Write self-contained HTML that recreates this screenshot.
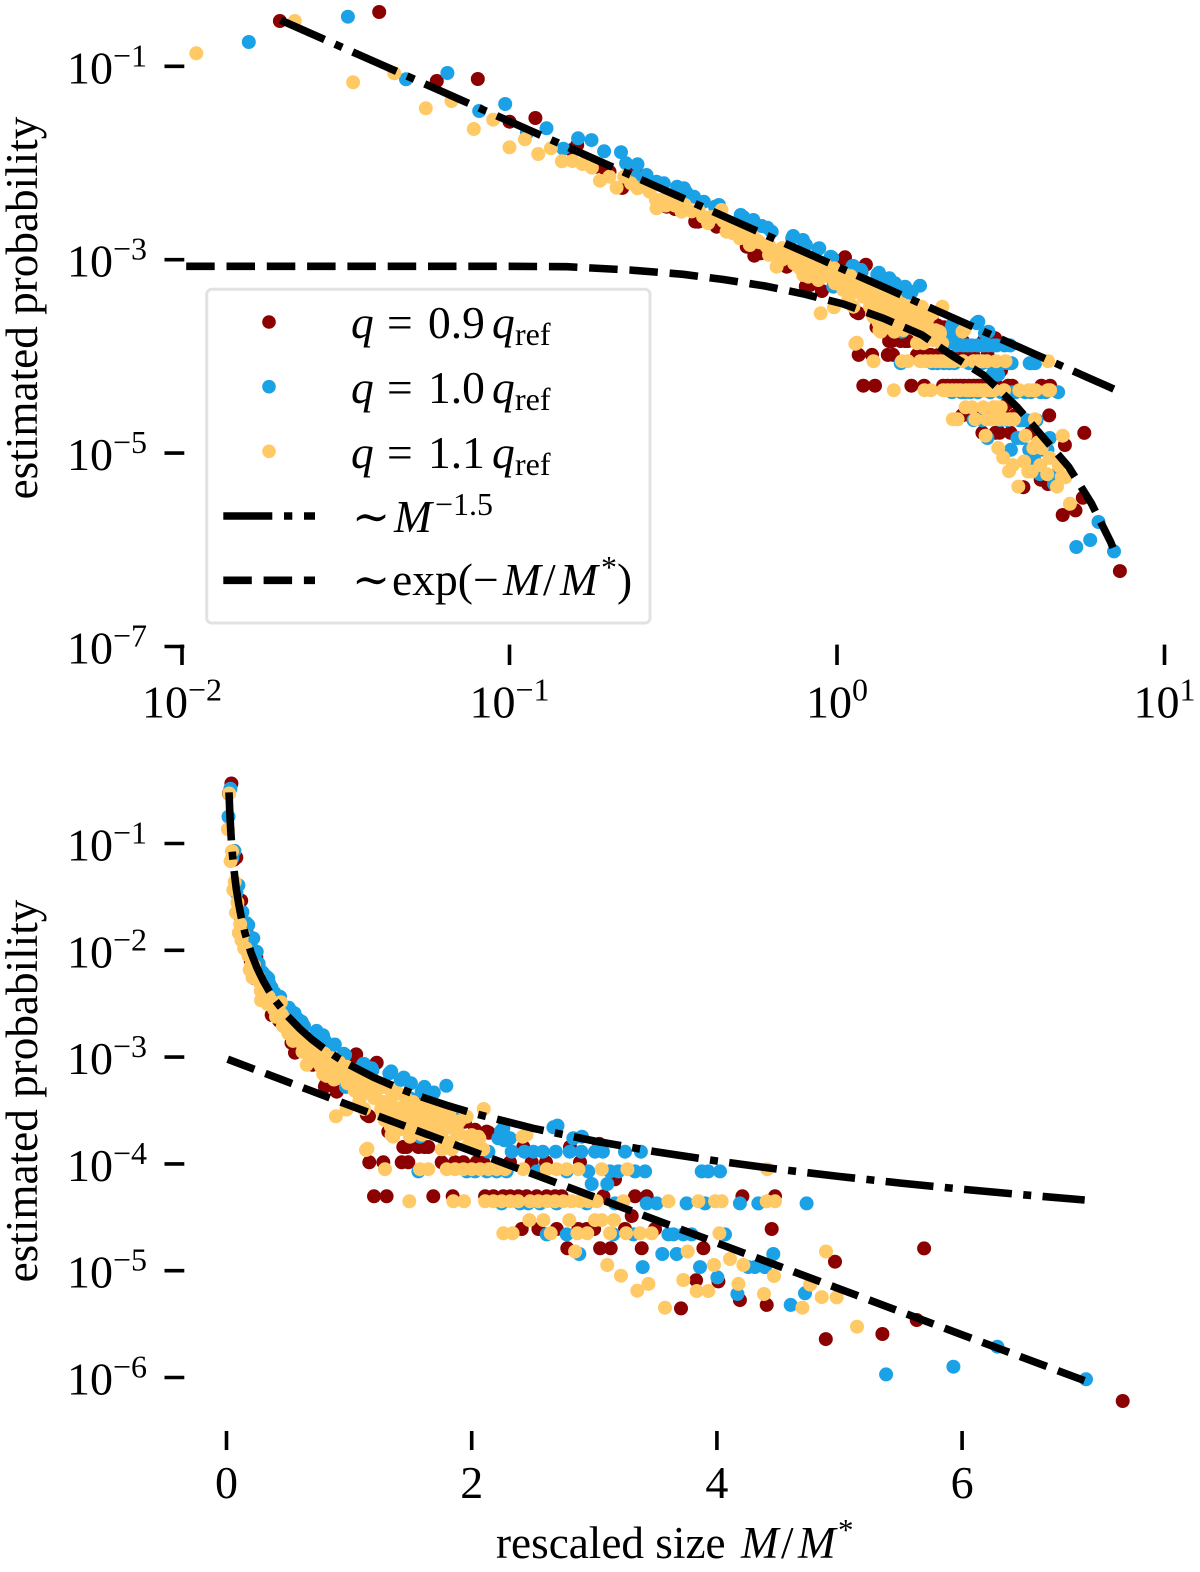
<!DOCTYPE html>
<html lang="en">
<head>
<meta charset="utf-8">
<title>Estimated probability versus rescaled size</title>
<style>
html,body{margin:0;padding:0;background:#fff;}
svg{display:block;}
text{font-family:"Liberation Serif","DejaVu Serif",serif;fill:#000;}
.i{font-style:italic;}
</style>
</head>
<body>
<svg id="chart" xmlns="http://www.w3.org/2000/svg" width="1200" height="1572" viewBox="0 0 1200 1572">
  <rect width="1200" height="1572" fill="#fff"/>
  <g id="top-panel"></g>
  <g id="bottom-panel"></g>

  <text transform="translate(37,308) rotate(-90)" text-anchor="middle" font-size="45.2">estimated probability</text>
  <text transform="translate(37,1091) rotate(-90)" text-anchor="middle" font-size="45.2">estimated probability</text>
  <text y="1558" font-size="45.2"><tspan x="496">rescaled size</tspan><tspan x="741" class="i">M</tspan><tspan x="781">/</tspan><tspan x="798" class="i">M</tspan><tspan x="838" dy="-18" font-size="31">*</tspan></text>

  <g>
    <rect x="206.7" y="289.3" width="443.3" height="333.7" rx="5" fill="rgba(255,255,255,0.8)" stroke="#e2e2e2" stroke-width="3"/>
    <g>
      <circle cx="269" cy="322" r="6.8" fill="#8b0000"/>
      <text y="338" font-size="45.5"><tspan x="351" class="i">q</tspan><tspan x="387">=</tspan><tspan x="428">0.9</tspan><tspan x="492" class="i">q</tspan><tspan x="515" dy="7" font-size="32">ref</tspan></text>
    </g>
    <g>
      <circle cx="269" cy="386.7" r="6.8" fill="#1ba1e6"/>
      <text y="403" font-size="45.5"><tspan x="351" class="i">q</tspan><tspan x="387">=</tspan><tspan x="428">1.0</tspan><tspan x="492" class="i">q</tspan><tspan x="515" dy="7" font-size="32">ref</tspan></text>
    </g>
    <g>
      <circle cx="269" cy="451.3" r="6.8" fill="#ffc966"/>
      <text y="468" font-size="45.5"><tspan x="351" class="i">q</tspan><tspan x="387">=</tspan><tspan x="428">1.1</tspan><tspan x="492" class="i">q</tspan><tspan x="515" dy="7" font-size="32">ref</tspan></text>
    </g>
    <g>
      <line x1="223.3" y1="516" x2="315" y2="516" stroke="#000" stroke-width="7.6" stroke-dasharray="49 11.7 8.3 11.7"/>
      <text y="532" font-size="45.5"><tspan x="352">∼</tspan><tspan x="394" class="i">M</tspan><tspan x="435" dy="-17" font-size="32">−1.5</tspan></text>
    </g>
    <g>
      <line x1="223.3" y1="580.3" x2="315" y2="580.3" stroke="#000" stroke-width="7.6" stroke-dasharray="28.5 11.8"/>
      <text y="595" font-size="45.5"><tspan x="352">∼</tspan><tspan x="392">exp(</tspan><tspan x="473">−</tspan><tspan x="503" class="i">M</tspan><tspan x="543">/</tspan><tspan x="560" class="i">M</tspan><tspan x="601" dy="-17" font-size="32">*</tspan><tspan x="617" dy="17">)</tspan></text>
    </g>
  </g>
</svg>

<script>
// ---------- tick labels ----------
const topXTicks = [-2, -1, 0, 1];
const topYTicks = [-1, -3, -5, -7];
const bottomXTicks = [0, 2, 4, 6];
const bottomYTicks = [-1, -2, -3, -4, -5, -6];

// ---------- fit lines: M and log10(P) ----------
const powerM = [0.02,0.025,0.03,0.035,0.04,0.05,0.06,0.07,0.08,0.1,0.12,0.15,0.2,0.25,0.3,0.35,0.4,0.5,0.6,0.7,0.8,0.9,1,1.2,1.4,1.6,1.8,2,2.5,3,3.5,4,4.5,5,5.5,6,6.5,7];
const powerLogP = [-0.522,-0.667,-0.786,-0.886,-0.973,-1.118,-1.237,-1.338,-1.425,-1.57,-1.689,-1.834,-2.022,-2.167,-2.286,-2.386,-2.473,-2.618,-2.737,-2.838,-2.925,-3.001,-3.07,-3.189,-3.289,-3.376,-3.453,-3.522,-3.667,-3.786,-3.886,-3.973,-4.05,-4.118,-4.18,-4.237,-4.289,-4.338];
const expTopM = [0.0103,0.05,0.1,0.15,0.233,0.339,0.45,0.603,0.8,1.045,1.385,1.815,2.267,2.8,3.54,4.12,5.09,5.98,6.85,7];
const expTopLogP = [-3.068,-3.068,-3.068,-3.072,-3.106,-3.151,-3.205,-3.272,-3.358,-3.458,-3.606,-3.778,-4.0,-4.192,-4.52,-4.78,-5.14,-5.52,-5.92,-6.0];
const expBottomM = [0.01,1,2,3,4,5,6,7];
const expBottomLogP = [-3.02,-3.45,-3.88,-4.31,-4.74,-5.17,-5.6,-6.03];

// ---------- q = 0.9 q_ref ----------
const redM = [0.0199,0.04,0.06,0.08,0.1,0.12,0.155,0.161,0.184,0.202,
  0.221,0.2415,0.198,0.243,0.302,0.32,0.377,0.429,0.53,0.585,
  0.702,0.808,0.369,0.559,1.048,1.058,1.225,0.803,0.899,0.827,
  1.162,1.353,1.578,1.32,1.144,2.122,2.027,1.945,3.169,2.14,
  3.04,3.305,3.707,3.83,4.012,4.188,4.406,4.963,4.888,5.35,
  5.63,5.69,7.31];
const redLogP = [-0.532,-0.438,-1.152,-1.131,-1.573,-1.535,-1.866,-1.814,-2.038,-2.09,
  -2.258,-2.08,-2.103,-2.065,-2.452,-2.476,-2.607,-2.659,-2.866,-2.934,
  -3.072,-3.262,-2.606,-2.959,-2.996,-2.975,-3.052,-3.277,-3.324,-3.262,
  -3.554,-3.709,-3.449,-3.698,-3.54,-3.698,-3.68,-3.605,-4.144,-3.709,
  -3.813,-4.488,-5.353,-5.09,-5.1,-5.275,-5.32,-4.916,-5.64,-5.593,
  -5.462,-4.791,-6.22];
const redRowLevels = [-3.842,-3.985,-4.303,-4.61,-4.79];
const redRowM = [
  [1.442,1.47,1.565,1.614,1.646,2.421,2.802],
  [1.165,1.279,1.429,1.483,1.755,1.864,1.932,2.04,2.095,2.312,2.489,2.606,2.883],
  [1.203,1.306,1.687,1.845,2.109,2.177,2.258,2.313,2.38,2.448,2.53,2.612,2.68,2.734,3.074,3.332,3.427,4.208,4.474],
  [2.408,2.544,2.693,2.87,2.938,2.998,3.25,3.495,4.447],
  [2.78,3.047,3.134,3.387,3.89]
];

// ---------- q = 1.0 q_ref ----------
const blueM = [0.016,0.0321,0.0483,0.0646,0.0808,0.097,0.113,0.1297,0.146,0.162,
  0.1945,0.227,0.2435,0.2596,0.262,0.281,0.296,0.325,0.347,0.366,
  0.392,0.424,0.46,0.508,0.555,0.589,0.632,0.735,0.787,0.178,
  0.219,0.246,0.341,0.436,0.518,0.613,0.73,0.803,0.877,0.967,
  1.116,1.184,1.328,1.42,1.592,1.65,0.883,0.957,1.122,1.19,
  1.343,1.445,1.614,1.793,1.691,1.504,0.974,1.081,2.24,2.267,
  2.258,2.666,2.217,2.312,2.829,2.7,2.9,1.864,1.7,1.578,
  1.497,1.633,2.979,3.106,4.004,4.167,4.602,4.719,5.38,5.929,
  6.288,7.011];
const blueLogP = [-0.749,-0.487,-1.134,-1.069,-1.462,-1.39,-1.69,-1.641,-1.852,-1.745,
  -1.879,-2.003,-2.142,-2.142,-2.124,-2.193,-2.21,-2.245,-2.307,-2.348,
  -2.4,-2.452,-2.607,-2.538,-2.589,-2.651,-2.71,-2.755,-2.796,-1.763,
  -1.888,-2.013,-2.262,-2.434,-2.559,-2.669,-2.777,-2.846,-2.887,-2.98,
  -3.065,-3.105,-3.152,-3.214,-3.324,-3.355,-2.882,-2.969,-3.065,-3.124,
  -3.134,-3.192,-3.279,-3.269,-3.331,-3.244,-3.279,-3.344,-3.693,-3.779,
  -3.667,-3.657,-3.76,-3.76,-3.76,-3.641,-3.745,-3.582,-3.526,-3.745,
  -3.386,-3.339,-4.188,-4.188,-5.063,-5.218,-5.32,-5.212,-5.971,-5.899,
  -5.712,-6.017];
const blueRowLevels = [-3.886,-4.07,-4.37,-4.66,-4.844,-4.966];
const blueRowM = [
  [2.136,2.326,2.43,2.503,2.58,2.685,2.8,2.894,3.006,3.07,3.25,3.38],
  [1.565,1.959,2.027,2.122,2.204,2.285,2.53,2.775,2.951,3.128,3.196,3.332,3.414,3.876,3.93,4.025],
  [2.244,2.394,2.462,2.557,2.693,2.938,3.169,3.427,3.509,3.753,3.903,4.188,4.338,4.732],
  [2.612,2.775,3.155,3.319,3.604,3.645,3.726,3.794,4.066],
  [2.878,3.555,3.672,4.46],
  [3.395,3.862,4.256,4.31,4.392]
];

// ---------- q = 1.1 q_ref ----------
const yellowM = [0.01106,0.0221,0.0333,0.0445,0.0555,0.0665,0.0778,0.0892,0.1,0.1114,
  0.1224,0.1338,0.1445,0.1557,0.167,0.1785,0.189,0.2018,0.2123,0.224,
  0.235,0.246,0.258,0.268,0.281,0.291,0.309,0.335,0.343,0.377,
  0.39,0.404,0.424,0.444,0.46,0.482,0.505,0.542,0.568,0.61,
  0.646,0.654,0.685,0.718,0.753,0.789,0.685,0.727,0.771,0.817,
  0.877,0.771,0.846,0.93,0.986,1.045,1.109,1.203,1.261,1.353,
  1.452,1.353,1.522,1.634,1.594,1.752,1.835,1.969,2.063,1.879,
  1.418,1.291,1.122,1.083,1.218,1.353,1.504,1.614,1.71,1.815,
  2.098,2.447,0.892,0.979,1.149,2.416,1.138,1.347,1.497,1.51,
  1.36,1.755,1.837,2.095,2.068,1.768,1.986,1.878,2.0,2.054,
  1.959,1.796,1.646,1.537,1.7,2.843,3.762,3.106,3.218,3.351,
  3.441,3.577,3.726,3.835,3.93,3.976,4.107,4.216,4.175,4.384,
  4.466,4.697,4.855,4.76,4.89,4.977,5.143];
const yellowLogP = [-0.866,-0.532,-1.165,-1.072,-1.434,-1.359,-1.648,-1.552,-1.838,-1.755,
  -1.907,-1.848,-1.982,-1.979,-2.01,-2.049,-2.183,-2.142,-2.255,-2.142,
  -2.21,-2.262,-2.245,-2.297,-2.468,-2.383,-2.4,-2.504,-2.434,-2.486,
  -2.555,-2.623,-2.555,-2.486,-2.71,-2.727,-2.779,-2.848,-2.796,-2.865,
  -2.951,-3.072,-2.969,-2.917,-3.055,-3.158,-2.9,-2.985,-3.089,-3.176,
  -3.21,-2.951,-3.037,-3.124,-3.244,-3.313,-3.347,-3.383,-3.486,-3.52,
  -3.554,-3.727,-3.606,-3.658,-3.727,-3.727,-3.796,-3.83,-3.761,-3.693,
  -3.675,-3.59,-3.486,-3.417,-3.279,-3.365,-3.451,-3.52,-3.59,-3.486,
  -3.486,-3.727,-3.554,-3.492,-3.858,-3.745,-3.87,-3.73,-3.745,-3.667,
  -3.745,-3.863,-3.863,-3.863,-3.854,-3.854,-3.74,-3.651,-3.73,-3.745,
  -3.558,-3.636,-3.589,-3.495,-3.636,-4.82,-4.82,-4.947,-5.047,-5.187,
  -5.124,-5.346,-5.087,-5.19,-5.19,-4.947,-4.89,-4.947,-5.124,-5.218,
  -5.05,-5.346,-5.247,-5.13,-4.82,-5.25,-5.524];
const yellowRowLevels = [-4.05,-4.35,-4.526,-4.65];
const yellowRowM = [
  [1.293,1.578,1.646,1.796,1.864,1.932,2.0,2.068,2.136,2.204,2.272,2.421,2.612,2.693,2.775,2.87,3.06,3.27,4.41],
  [1.491,1.85,1.937,2.109,2.177,2.244,2.313,2.38,2.476,2.544,2.612,2.68,2.748,2.816,2.884,2.951,3.019,3.237,3.604,3.849,3.985,4.039,4.406,4.474],
  [2.47,2.585,2.796,3.006,3.06,3.161],
  [2.258,2.334,2.644,2.862,2.943,3.128,3.259,3.373,3.468,4.02]
];
// dense yellow strip: one M with the log10(P) values stacked at it
const yellowStripM = [0.28,0.3,0.32,0.36,0.41,0.45,0.48,0.52,0.55,0.58,0.62,0.68,0.74,0.8,0.86,0.92,0.98,1.04,1.1,1.16,1.22,1.28,1.34,1.4,1.46,1.52,1.58,1.64,1.7,1.76,1.82,1.9];
const yellowStripLogP = [
  [-2.38],[-2.44],[-2.44],[-2.5],[-2.56],[-2.6],[-2.65],[-2.72],[-2.75],[-2.82],
  [-2.85,-2.95],[-2.88,-3.0],[-2.93,-3.04],[-2.97,-3.08],[-3.01,-3.12],[-3.05,-3.17],[-3.09,-3.2],[-3.13,-3.25],[-3.17,-3.28],[-3.22,-3.33],
  [-3.24,-3.38],[-3.28,-3.42,-3.55],[-3.31,-3.45,-3.65],[-3.34,-3.48,-3.6],[-3.38,-3.5,-3.6],[-3.42,-3.54],[-3.46,-3.56,-3.66],[-3.48,-3.6],[-3.5,-3.63,-3.7],[-3.52,-3.62],[-3.55,-3.66],[-3.6,-3.72]
];

// ---------- axis functions ----------
function xTop(m){ return 837 + 327.5 * Math.log10(m); }
function xTopLog(e){ return 837 + 327.5 * e; }
function yTop(l){ return 66.3 + (-1 - l) * 96.7; }
function xBottom(m){ return 226.5 + 122.6 * m; }
function yBottom(l){ return 843.5 + (-1 - l) * 106.8; }

const NS = 'http://www.w3.org/2000/svg';
const topPanel = document.getElementById('top-panel');
const bottomPanel = document.getElementById('bottom-panel');

function drawDots(parent, name, color, ms, ls, rowLevels, rowMs, columnMs, columnLs, xf, yf){
  const g = document.createElementNS(NS, 'g');
  
  
  g.setAttribute('fill', color);
  const addDot = function(m, l){
    const c = document.createElementNS(NS, 'circle');
    
    
    c.setAttribute('cx', xf(m).toFixed(1));
    c.setAttribute('cy', yf(l).toFixed(1));
    c.setAttribute('r', '7');
    g.appendChild(c);
  };
  const n = Math.min(ms.length, ls.length);
  for (let i = 0; i < n; i++) addDot(ms[i], ls[i]);
  rowLevels.forEach(function(level, r){
    rowMs[r].forEach(function(m){ addDot(m, level); });
  });
  columnMs.forEach(function(m, c){
    columnLs[c].forEach(function(l){ addDot(m, l); });
  });
  parent.appendChild(g);
}

function drawLine(parent, name, ms, ls, dash, xf, yf){
  const p = document.createElementNS(NS, 'polyline');
  
  
  const pts = ms.map(function(m, i){ return xf(m).toFixed(1) + ',' + yf(ls[i]).toFixed(1); }).join(' ');
  p.setAttribute('points', pts);
  p.setAttribute('fill', 'none');
  p.setAttribute('stroke', '#000');
  p.setAttribute('stroke-width', '7.6');
  p.setAttribute('stroke-dasharray', dash);
  parent.appendChild(p);
}

function drawTick(parent, name, x1, y1, x2, y2){
  const t = document.createElementNS(NS, 'line');
  
  
  t.setAttribute('x1', x1);
  t.setAttribute('y1', y1);
  t.setAttribute('x2', x2);
  t.setAttribute('y2', y2);
  t.setAttribute('stroke', '#000');
  t.setAttribute('stroke-width', '3.6');
  parent.appendChild(t);
}

function drawPowerLabel(parent, name, x, y, anchor, exponent){
  const t = document.createElementNS(NS, 'text');
  
  
  t.setAttribute('x', x);
  t.setAttribute('y', y);
  t.setAttribute('text-anchor', anchor);
  t.setAttribute('font-size', '46');
  t.appendChild(document.createTextNode('10'));
  const s = document.createElementNS(NS, 'tspan');
  s.setAttribute('dy', '-17');
  s.setAttribute('font-size', '32');
  s.textContent = String(exponent).replace('-', '\u2212');
  t.appendChild(s);
  parent.appendChild(t);
}

function drawPlainLabel(parent, name, x, y, value){
  const t = document.createElementNS(NS, 'text');
  
  
  t.setAttribute('x', x);
  t.setAttribute('y', y);
  t.setAttribute('text-anchor', 'middle');
  t.setAttribute('font-size', '46');
  t.textContent = String(value);
  parent.appendChild(t);
}

function drawPanel(parent, xf, yf, expM, expLogP){
  drawDots(parent, 'q-0-9', '#8b0000', redM, redLogP, redRowLevels, redRowM, [], [], xf, yf);
  drawDots(parent, 'q-1-0', '#1ba1e6', blueM, blueLogP, blueRowLevels, blueRowM, [], [], xf, yf);
  drawDots(parent, 'q-1-1', '#ffc966', yellowM, yellowLogP, yellowRowLevels, yellowRowM, yellowStripM, yellowStripLogP, xf, yf);
  drawLine(parent, 'power-law-fit-line', powerM, powerLogP, '48 11.4 8 11.4', xf, yf);
  drawLine(parent, 'exponential-fit-line', expM, expLogP, '28.5 11.8', xf, yf);
}

drawPanel(topPanel, xTop, yTop, expTopM, expTopLogP);
drawPanel(bottomPanel, xBottom, yBottom, expBottomM, expBottomLogP);

topYTicks.forEach(function(e){
  const y = yTop(e);
  drawTick(topPanel, 'top-y-tick', 164.5, y, 184.3, y);
  drawPowerLabel(topPanel, 'top-y-tick-label', 147, y + 17, 'end', e);
});
topXTicks.forEach(function(e){
  const x = xTopLog(e);
  drawTick(topPanel, 'top-x-tick', x, 644.6, x, 665);
  drawPowerLabel(topPanel, 'top-x-tick-label', x, 717.5, 'middle', e);
});
bottomYTicks.forEach(function(e){
  const y = yBottom(e);
  drawTick(bottomPanel, 'bottom-y-tick', 164.5, y, 184.3, y);
  drawPowerLabel(bottomPanel, 'bottom-y-tick-label', 147, y + 17, 'end', e);
});
bottomXTicks.forEach(function(v){
  const x = xBottom(v);
  drawTick(bottomPanel, 'bottom-x-tick', x, 1431, x, 1450);
  drawPlainLabel(bottomPanel, 'bottom-x-tick-label', x, 1498, v);
});
</script>
</body>
</html>
